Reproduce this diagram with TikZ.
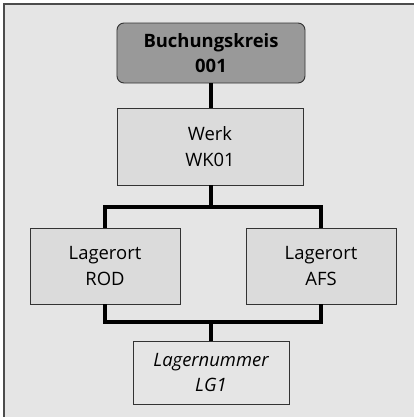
\documentclass[tikz,border=0pt]{standalone}
\usepackage{fontspec}
\setmainfont{Open Sans}
\begin{document}
\begin{tikzpicture}[x=1bp,y=-1bp,
  box/.style={draw=black!80,line width=0.9bp,align=center,font=\fontsize{18.5}{25.5}\selectfont,inner sep=0pt},
  conn/.style={line width=3.6bp,black,line join=miter}]
\useasboundingbox (0,0) rectangle (414,417);
\fill[white] (0,0) rectangle (414,417);
\fill[black!10] (4,4) rectangle (414,417);
\draw[black!70,line width=1.5bp] (4,417) -- (4,4) -- (414,4);
\node[box,rounded corners=7bp,fill=black!40,font=\fontsize{18.5}{25.5}\selectfont\bfseries,minimum width=188bp,minimum height=60bp] (bk) at (211,53) {Buchungskreis\\001};
\node[box,fill=black!14,minimum width=186bp,minimum height=77bp] (werk) at (210,146.5) {Werk\\WK01};
\node[box,fill=black!14,minimum width=150bp,minimum height=76bp] (rod) at (105,266) {Lagerort\\ROD};
\node[box,fill=black!14,minimum width=150bp,minimum height=76bp] (afs) at (321,266) {Lagerort\\AFS};
\node[box,fill=black!10,minimum width=156bp,minimum height=63bp,font=\fontsize{18.5}{25.5}\selectfont\itshape] (lg) at (211,372.5) {Lagernummer\\LG1};
\coordinate (j1) at (211,206.7);
\coordinate (j2) at (211,322);
\draw[conn] (bk.south -| j1) -- (werk.north -| j1);
\draw[conn] (werk.south -| j1) -- (j1);
\draw[conn] (rod.north) |- (j1) -| (afs.north);
\draw[conn] (rod.south) |- (j2) -| (afs.south);
\draw[conn] (j2) -- (lg.north -| j2);
\end{tikzpicture}
\end{document}
